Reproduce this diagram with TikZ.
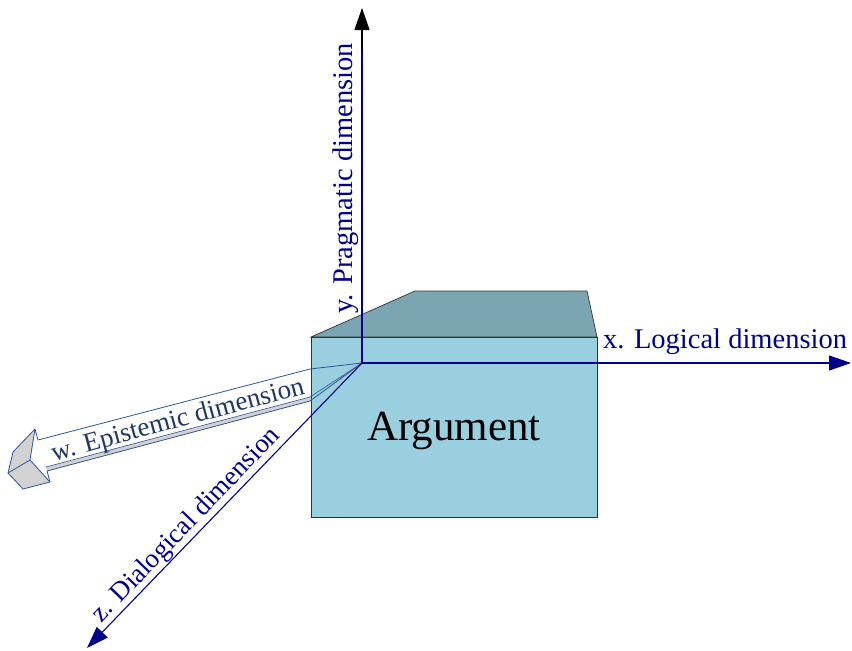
\documentclass[tikz,border=0pt]{standalone}
\usepackage{fontspec}
\setmainfont{Liberation Serif}
\usetikzlibrary{arrows.meta,calc}
\definecolor{axisblue}{RGB}{0,0,140}
\definecolor{frontfill}{RGB}{153,207,222}
\definecolor{topfill}{RGB}{123,166,177}
\definecolor{epiline}{RGB}{47,85,151}
\definecolor{epitext}{RGB}{31,56,100}
\definecolor{headgray}{RGB}{210,210,210}
\tikzset{
  axisline/.style={draw=axisblue, line width=1.1pt},
  axislabel/.style={text=axisblue, font=\fontsize{28.5}{30}\selectfont, inner sep=1pt},
  boxface/.style={draw=black!80, line width=0.7pt},
  epiedge/.style={draw=epiline, line width=0.8pt, line join=round},
}
\begin{document}
\begin{tikzpicture}[x=1pt,y=-1pt]
\useasboundingbox (0,0) rectangle (852,651);
% key points
\coordinate (O) at (362,363);
\coordinate (ytip) at (362,8);
\coordinate (yjoin) at (362,50);
\coordinate (xtip) at (851,363);
\coordinate (ztip) at (87,648);
% epistemic arrow points
\coordinate (U1) at (310,369);
\coordinate (U2) at (38,440);
\coordinate (HA) at (35,429);
\coordinate (HB) at (13,452);
\coordinate (HC) at (8,473);
\coordinate (HD) at (23,489);
\coordinate (HE) at (50,482);
\coordinate (HF) at (30,460);
\coordinate (L2) at (47,471);
\coordinate (L1) at (310,401);
\coordinate (L2i) at (46,467);
\coordinate (L1i) at (310,397);
% epistemic arrow fill (under the box)
\fill[white] (O) -- (U1) -- (U2) -- (HA) -- (HB) -- (HC) -- (HD) -- (HE) -- (L2) -- (L1) -- cycle;
\fill[headgray] (L2) -- (L1) -- (O) -- (L1i) -- (L2i) -- cycle;
\fill[headgray] (HA) -- (HB) -- (HC) -- (HF) -- cycle;
\fill[headgray] (HC) -- (HD) -- (HE) -- (HF) -- cycle;
% box
\coordinate (B1) at (311,337);
\coordinate (B2) at (597,337);
\coordinate (B3) at (597,517);
\coordinate (B4) at (311,517);
\coordinate (T1) at (415,291);
\coordinate (T2) at (587,291);
\path[boxface, fill=topfill] (B1) -- (T1) -- (T2) -- (B2) -- cycle;
\path[boxface, fill=frontfill] (B1) rectangle (B3);
\node[font=\fontsize{43}{46}\selectfont, text=black] (arg) at (454,431) {Argument};
% epistemic arrow outlines
\path[epiedge] (O) -- (U1) -- (U2) -- (HA) -- (HB) -- (HC) -- (HD) -- (HE) -- (L2) -- (L1) -- cycle;
\path[epiedge, line width=0.6pt] (L2i) -- (L1i) -- (O);
\path[epiedge] (HA) -- (HF) -- (HC);
\path[epiedge] (HF) -- (HE);
\node[text=epitext, font=\fontsize{27}{29}\selectfont, rotate=15, inner sep=0pt] (wlab) at (178,421) {w. Epistemic dimension};
% axes
\draw[axisline, -{Triangle[length=22pt,width=15pt]}] (O) -- (xtip);
\draw[axisline, -{Triangle[length=22pt,width=15pt]}] (O) -- (ztip);
\draw[axisline] (O) -- (yjoin);
\draw[black, line width=1.1pt, -{Triangle[length=22pt,width=15pt]}] (yjoin) -- (ytip);
% labels
\node[axislabel, anchor=base west] (xlab) at (602,348) {x. Logical dimension};
\node[axislabel, rotate=90, anchor=south] (ylab) at ($(O)!0.52!(ytip)+(-2,0)$) {y. Pragmatic dimension};
\node[axislabel, font=\fontsize{27}{29}\selectfont, rotate=46.2, anchor=south] (zlab) at ($(O)!0.603!(ztip)$) {z. Dialogical dimension};
\end{tikzpicture}
\end{document}
